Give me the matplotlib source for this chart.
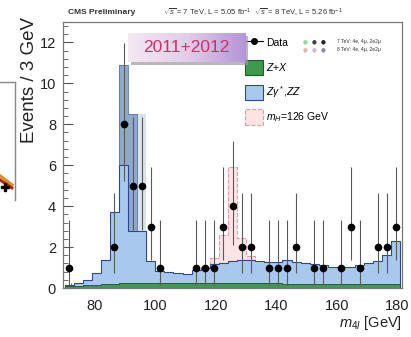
import numpy as np
import matplotlib
matplotlib.use('Agg')
import matplotlib.pyplot as plt
from matplotlib.patches import Rectangle, Patch
from matplotlib.lines import Line2D
from matplotlib.ticker import MultipleLocator, AutoMinorLocator
from matplotlib.colors import LinearSegmentedColormap

plt.rcParams['font.family'] = ['Liberation Sans', 'DejaVu Sans']
plt.rcParams['mathtext.fontset'] = 'custom'
plt.rcParams['mathtext.rm'] = 'Liberation Sans'
plt.rcParams['mathtext.it'] = 'Liberation Sans:italic'

# m4l bins, 3 GeV wide, 70 -> 181 GeV
bin_edges = np.arange(70, 182, 3)

# observed events per bin
data_counts = [1, 0, 0, 0, 0, 2, 8, 5, 5, 3, 1, 0, 0, 0, 1, 1, 1, 3, 4,
               2, 2, 0, 1, 1, 1, 2, 0, 1, 1, 0, 1, 3, 1, 0, 2, 2, 3]

# poisson 68% interval for n = 0..8 (as drawn on the plot)
poisson_lo = [0.0, 0.17, 0.71, 1.37, 2.09, 2.84, 3.62, 4.42, 5.23]
poisson_hi = [1.84, 3.30, 4.64, 5.92, 7.16, 8.38, 9.58, 10.77, 11.98]

# Z+X reducible background
zx = [0.10, 0.12, 0.14, 0.16, 0.18, 0.20, 0.22, 0.22, 0.22, 0.22, 0.22, 0.22, 0.22,
      0.22, 0.22, 0.22, 0.22, 0.22, 0.22, 0.22, 0.22, 0.22, 0.22, 0.22, 0.20, 0.20,
      0.20, 0.20, 0.20, 0.20, 0.20, 0.20, 0.20, 0.20, 0.20, 0.20, 0.20]

# Z+X + ZZ stacked top
bkg_total = [0.15, 0.25, 0.40, 0.72, 1.35, 3.70, 6.00, 2.80, 2.80, 1.30, 0.85, 0.80,
             0.75, 0.70, 0.90, 1.00, 1.15, 1.20, 1.30, 1.35, 1.35, 1.30, 1.25, 1.25,
             1.35, 1.25, 1.20, 1.15, 1.10, 1.05, 1.05, 1.05, 1.10, 1.20, 1.30, 1.60, 2.30]

# Z peak, darker overlay
peak_edges = np.arange(85, 98, 3)
peak_dark = [3.70, 10.90, 8.50, 2.80]
peak_pale = [0.0, 0.0, 0.0, 8.50]

# mH = 126 GeV signal on top of background
sig_edges = np.arange(115, 134, 3)
sig = [0.05, 0.30, 1.40, 4.60, 1.10, 0.20]

W, H = 411, 337
fig = plt.figure(figsize=(W / 100, H / 100), dpi=100)
ax = fig.add_axes([63 / W, 49 / H, 339 / W, 266 / H])

bkg_total = np.array(bkg_total)
zx = np.array(zx)
centers = 0.5 * (bin_edges[:-1] + bin_edges[1:])

# signal
i0 = np.searchsorted(bin_edges, sig_edges[0])
base_sig = bkg_total[i0:i0 + len(sig)]
ax.stairs(base_sig + np.array(sig), sig_edges, baseline=base_sig, fill=True,
          color='#fbe4e4', zorder=1)
ax.stairs(base_sig + np.array(sig), sig_edges, baseline=base_sig, color='#e29aa4',
          linestyle='--', linewidth=0.8, zorder=1.1)

# peak overlays
ax.stairs(peak_pale, peak_edges, fill=True, color='#dce2ea', zorder=1.5)
ax.stairs(peak_dark, peak_edges, fill=True, color='#8ea9cd', zorder=1.6)
ax.stairs(peak_dark, peak_edges, color='#5a77a6', linewidth=0.6, zorder=1.7)

# ZZ
ax.stairs(bkg_total, bin_edges, baseline=zx, fill=True, color='#a8c8ed', zorder=2)
ax.stairs(bkg_total, bin_edges, color='#2a4a8e', linewidth=0.8, zorder=2.1)

# Z+X
ax.stairs(zx, bin_edges, fill=True, color='#3e9a4c', zorder=2.2)
ax.stairs(zx, bin_edges, color='#1f5a2a', linewidth=0.6, zorder=2.3)

# data
counts = np.array(data_counts)
has = counts > 0
lo = np.array([poisson_lo[n] for n in counts])
hi = np.array([poisson_hi[n] for n in counts])
ax.errorbar(centers[has], counts[has], yerr=[counts[has] - lo[has], hi[has] - counts[has]],
            fmt='o', color='black', ecolor='#5a5a5a', elinewidth=0.8, markersize=4.5,
            capsize=0, zorder=4)

ax.set_xlim(69.5, 181.5)
ax.set_ylim(0, 13)
ax.xaxis.set_major_locator(MultipleLocator(20))
ax.xaxis.set_minor_locator(AutoMinorLocator(5))
ax.yaxis.set_major_locator(MultipleLocator(2))
ax.yaxis.set_minor_locator(AutoMinorLocator(5))
ax.tick_params(which='both', direction='in', colors='#555555', labelcolor='#222222')
ax.tick_params(which='major', length=7, width=0.8, labelsize=10.5)
ax.tick_params(which='minor', length=3.5, width=0.6)
ax.tick_params(axis='x', pad=8)
ax.tick_params(axis='y', pad=5)
for s in ax.spines.values():
    s.set_color('#777777')
    s.set_linewidth(0.9)

ax.set_xlabel(r'$m_{4l}$ [GeV]', loc='right', fontsize=10.5, labelpad=1, color='#222222')
fig.text(30 / W, 1 - 17 / H, 'Events / 3 GeV', rotation=90, ha='center', va='top',
         fontsize=13.5, color='#222222')

# header
fig.text(68 / W, 1 - 13 / H, 'CMS Preliminary', fontsize=6, fontweight='bold',
         color='#333333', va='center')
fig.text(163 / W, 1 - 13 / H,
         r'$\sqrt{s}$ = 7 TeV, L = 5.05 fb$^{-1}$  $\sqrt{s}$ = 8 TeV, L = 5.26 fb$^{-1}$',
         fontsize=5.5, color='#333333', va='center')

# legend
handles = [
    Line2D([0], [0], color='black', marker='o', markersize=4, linewidth=0.8),
    Patch(facecolor='#3e9a4c', edgecolor='#1f5a2a', linewidth=0.8),
    Patch(facecolor='#a8c8ed', edgecolor='#2a4a8e', linewidth=0.8),
    Patch(facecolor='#fbe4e4', edgecolor='#e29aa4', linewidth=0.8, linestyle='--'),
]
labels = ['Data', r'$Z$+$X$', r'$Z\gamma^*$,$ZZ$', r'$m_H$=126 GeV']
ax.legend(handles, labels, loc='upper left', bbox_to_anchor=(0.537, 0.951),
          frameon=False, fontsize=7.5, borderpad=0, borderaxespad=0,
          handlelength=1.75, handleheight=1.9, labelspacing=0.87, handletextpad=0.3)

# small channel markers beside "Data"
dot_rows = [['#9fd19f', '#2f4f2f', '#222222'], ['#e3b3bb', '#c9b9dc', '#8a8aa3']]
for r, row in enumerate(dot_rows):
    for c, col in enumerate(row):
        fig.text((305 + 9 * c) / W, 1 - (42 + 8 * r) / H, '\u25cf', color=col,
                 fontsize=4, ha='center', va='center', family='DejaVu Sans')
fig.text(337 / W, 1 - 42 / H, '7 TeV: 4e, 4\u03bc, 2e2\u03bc', fontsize=3.6,
         color='#333333', va='center')
fig.text(337 / W, 1 - 50 / H, '8 TeV: 4e, 4\u03bc, 2e2\u03bc', fontsize=3.6,
         color='#333333', va='center')

# "2011+2012" banner with gradient
shadow = Rectangle((131 / W, 1 - 65 / H), 117 / W, 29 / H, transform=fig.transFigure,
                   facecolor='#9a9a9a', edgecolor='none', alpha=0.7, zorder=0.5)
fig.add_artist(shadow)
bax = fig.add_axes([128 / W, 1 - 62 / H, 117 / W, 29 / H], zorder=2)
grad = np.linspace(0, 1, 256).reshape(1, -1)
cmap = LinearSegmentedColormap.from_list('banner', ['#f4e9f3', '#e3cde9', '#b494d8'])
bax.imshow(grad, aspect='auto', cmap=cmap, extent=(0, 1, 0, 1))
bax.set_axis_off()
bax.text(0.5, 0.5, '2011+2012', ha='center', va='center', fontsize=12.5,
         color='#cf2f66', transform=bax.transAxes)

# fragment of neighbouring figure at the left edge
fig.add_artist(Line2D([0, 15 / W], [1 - 82 / H, 1 - 82 / H], transform=fig.transFigure,
                      color='#888888', linewidth=1))
fig.add_artist(Line2D([15 / W, 15 / W], [1 - 82 / H, 1 - 200 / H],
                      transform=fig.transFigure, color='#888888', linewidth=1))
fig.add_artist(Line2D([0, 12 / W], [1 - 176 / H, 1 - 185 / H], transform=fig.transFigure,
                      color='#e08a2a', linewidth=2.5))
fig.add_artist(Line2D([0, 12 / W], [1 - 180 / H, 1 - 188 / H], transform=fig.transFigure,
                      color='#b02020', linewidth=2))
fig.add_artist(Line2D([5 / W], [1 - 187 / H], transform=fig.transFigure, color='black',
                      marker='P', markersize=6, linestyle='none'))

fig.savefig('out.png', dpi=100)
